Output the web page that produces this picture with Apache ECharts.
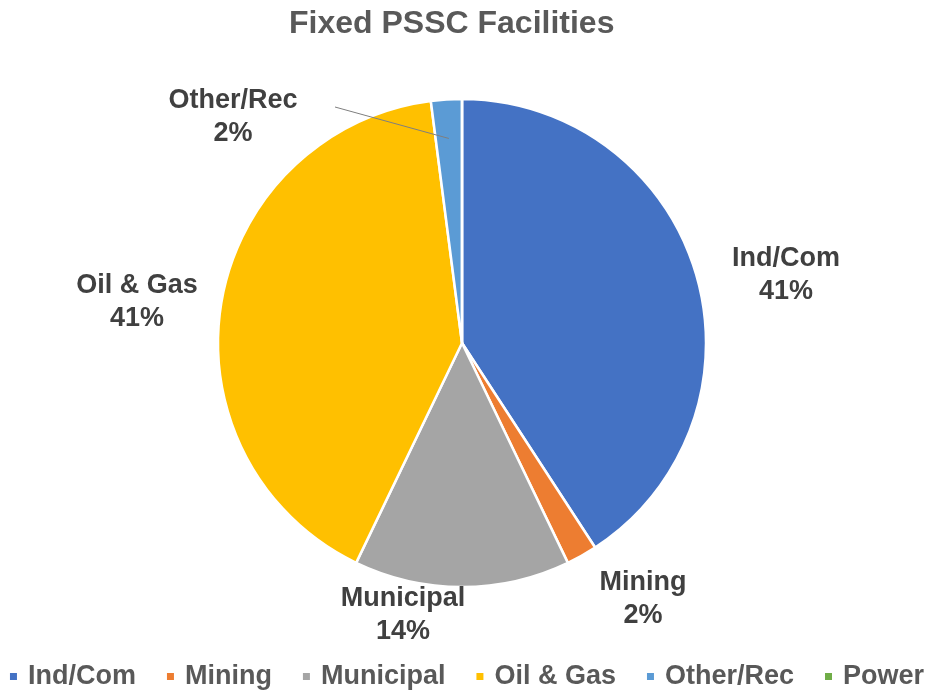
<!doctype html>
<html lang="en">

<head>
    <meta charset="UTF-8">
    <title>Fixed PSSC Facilities</title>
    <script src="https://cdn.jsdelivr.net/npm/echarts@6/dist/echarts.min.js"></script>
    <style>
        html, body { margin: 0; padding: 0; background: #fff; }
        #main { width: 932px; height: 692px; }
    </style>
</head>

<body>
    <div id="main"></div>
    <script type="text/javascript">
        // facility counts by sector
        var categories = ['Ind/Com', 'Mining', 'Municipal', 'Oil & Gas', 'Other/Rec', 'Power'];
        var counts = [20, 1, 7, 20, 1, 0];
        var colors = ['#4472C4', '#ED7D31', '#A5A5A5', '#FFC000', '#5B9BD5', '#70AD47'];

        // pie geometry and label spots (offset from the pie centre, px)
        var cx = 462, cy = 343, radius = 244;
        var labelOffset = [[324, -68], [181, 256], [-59, 272], [-325, -41], [-229, -226], null];
        var leaderFor = 'Other/Rec';

        var font = 'Arial, "Liberation Sans", sans-serif';

        var total = counts.reduce(function (a, b) { return a + b; }, 0);

        // mid angle of a slice, degrees clockwise from 12 o'clock
        function midAngle(i) {
            var before = 0;
            for (var k = 0; k < i; k++) before += counts[k];
            return (before + counts[i] / 2) / total * 360;
        }

        var labelStyle = {
            show: true,
            position: 'outside',
            formatter: '{b}\n{d}%',
            fontFamily: font,
            fontSize: 27,
            fontWeight: 'bold',
            color: '#404040',
            lineHeight: 33
        };

        function placeLabel(params) {
            var i = params.dataIndex;
            var off = labelOffset[i];
            if (!off) return {};
            var lx = cx + off[0], ly = cy + off[1];
            var res = { x: lx, y: ly, align: 'center', verticalAlign: 'middle' };
            if (categories[i] === leaderFor) {
                // leader runs from beside the label into the slice
                var a = midAngle(i) * Math.PI / 180;
                var r = radius * 0.84;
                res.labelLinePoints = [
                    [lx + 102, ly - 10],
                    [cx + r * Math.sin(a), cy - r * Math.cos(a)]
                ];
            }
            return res;
        }

        // visible slices; the leader label is drawn by the overlay series
        var pieData = categories.map(function (name, i) {
            var item = { name: name, value: counts[i], itemStyle: { color: colors[i] } };
            if (counts[i] === 0 || name === leaderFor) item.label = { show: false };
            return item;
        });

        // transparent copy on top so its leader line sits above the slices
        var overlayData = categories.map(function (name, i) {
            var item = { name: name, value: counts[i], label: { show: false } };
            if (name === leaderFor) {
                item.label = { show: true };
                item.labelLine = { show: true };
            }
            return item;
        });

        var myChart = echarts.init(document.getElementById('main'));

        var option = {
            animation: false,
            title: {
                text: 'Fixed PSSC Facilities',
                left: 284,
                top: 3,
                textStyle: { fontFamily: font, fontSize: 32, fontWeight: 'bold', color: '#595959' }
            },
            legend: {
                data: categories,
                bottom: 2,
                left: 'center',
                padding: 0,
                icon: 'rect',
                itemWidth: 9,
                itemHeight: 9,
                itemGap: 29,
                textStyle: { fontFamily: font, fontSize: 27, fontWeight: 'bold', color: '#595959', padding: [0, 0, 0, 5] }
            },
            series: [{
                name: 'Facilities',
                type: 'pie',
                center: [cx, cy],
                radius: radius,
                startAngle: 90,
                clockwise: true,
                percentPrecision: 0,
                stillShowZeroSum: false,
                itemStyle: { borderColor: '#fff', borderWidth: 2.5 },
                label: labelStyle,
                labelLine: { show: false },
                labelLayout: placeLabel,
                emphasis: { disabled: true },
                data: pieData
            }, {
                name: 'Leader',
                type: 'pie',
                z: 5,
                silent: true,
                center: [cx, cy],
                radius: radius,
                startAngle: 90,
                clockwise: true,
                percentPrecision: 0,
                stillShowZeroSum: false,
                itemStyle: { color: 'rgba(0,0,0,0)', borderWidth: 0 },
                label: labelStyle,
                labelLine: {
                    show: false,
                    lineStyle: { color: '#7f7f7f', width: 1, opacity: 1 }
                },
                labelLayout: placeLabel,
                emphasis: { disabled: true },
                data: overlayData
            }]
        };

        myChart.setOption(option);
    </script>
</body>

</html>
